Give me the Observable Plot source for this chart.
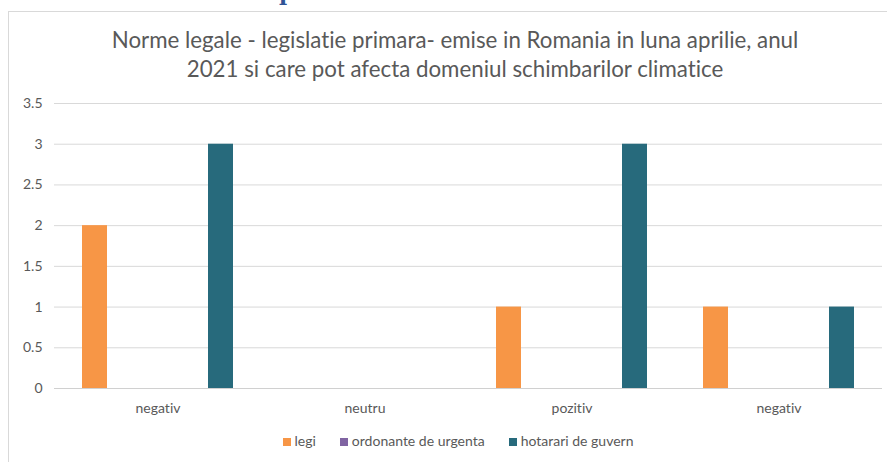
<!DOCTYPE html>
<html>
<head>
<meta charset="utf-8">
<script src="https://cdn.jsdelivr.net/npm/d3@7"></script>
<script src="https://cdn.jsdelivr.net/npm/@observablehq/plot@0.6"></script>
<style>
  html, body { margin: 0; padding: 0; background: #fff; overflow: hidden; }
  body { width: 887px; height: 462px; position: relative; font-family: Lato, "Open Sans", sans-serif; font-variant-ligatures: none; }
  #frame { position: absolute; left: 8px; top: 11px; width: 900px; height: 470px; border: 1px solid #d9d9d9; box-sizing: border-box; }
  #frag { position: absolute; left: 279px; top: -21px; font: bold 22px "DejaVu Serif", serif; color: #2f5496; }
  #title { position: absolute; left: 0; width: 910px; top: 25px; text-align: center; font-size: 22.3px; line-height: 29px; color: #595959; }
  #chart { position: absolute; left: 0; top: 90px; }
  #chart svg text { font-variant-ligatures: none; }
  #legend { position: absolute; left: 0; width: 916px; top: 432px; text-align: center; font-size: 14px; color: #595959; }
  #legend span.item { margin: 0 12px; white-space: nowrap; }
  #legend span.sw { display: inline-block; width: 8px; height: 8px; margin-right: 4px; vertical-align: 0px; }
</style>
</head>
<body>
<div id="frag">p</div>
<div id="frame"></div>
<div id="title">Norme legale - legislatie primara- emise in Romania in luna aprilie, anul<br>2021 si care pot afecta domeniul schimbarilor climatice</div>
<div id="chart"></div>
<div id="legend"></div>
<script>
const categories = ["negativ", "neutru", "pozitiv", "negativ"];
const seriesNames = ["legi", "ordonante de urgenta", "hotarari de guvern"];
const legi = [2, 0, 1, 1];
const ordonante = [0, 0, 0, 0];
const hotarari = [3, 0, 3, 1];
const colors = ["#f79646", "#8064a2", "#276a7c"];
const yTicks = [0, 0.5, 1, 1.5, 2, 2.5, 3, 3.5];

const seriesValues = [legi, ordonante, hotarari];
const data = [];
categories.forEach((c, i) => {
  seriesNames.forEach((s, j) => {
    data.push({ idx: i, series: s, value: seriesValues[j][i] });
  });
});

const plot = Plot.plot({
  width: 887,
  height: 340,
  marginLeft: 52,
  marginRight: 4,
  marginTop: 13,
  marginBottom: 42,
  style: { fontFamily: "Lato, 'Open Sans', sans-serif", fontSize: "14px", color: "#595959", background: "transparent" },
  fx: {
    domain: [0, 1, 2, 3],
    padding: 0,
    tickFormat: i => categories[i],
    tickSize: 0,
    tickPadding: 15,
    label: null
  },
  x: { domain: seriesNames, axis: null, paddingInner: 0.6, paddingOuter: 0.44 },
  y: {
    domain: [0, 3.5],
    ticks: yTicks,
    tickSize: 0,
    tickPadding: 12,
    label: null,
    tickFormat: d3.format("")
  },
  color: { domain: seriesNames, range: colors },
  marks: [
    Plot.ruleY(yTicks, { stroke: "#d9d9d9", strokeOpacity: 1 }),
    Plot.barY(data, { fx: "idx", x: "series", y: "value", fill: "series" }),
    Plot.ruleY([0], { stroke: "#d0d0d0" })
  ]
});
document.getElementById("chart").appendChild(plot);

const legend = document.getElementById("legend");
seriesNames.forEach((s, j) => {
  const item = document.createElement("span");
  item.className = "item";
  const sw = document.createElement("span");
  sw.className = "sw";
  sw.style.background = colors[j];
  item.appendChild(sw);
  item.appendChild(document.createTextNode(s));
  legend.appendChild(item);
});
</script>
</body>
</html>
